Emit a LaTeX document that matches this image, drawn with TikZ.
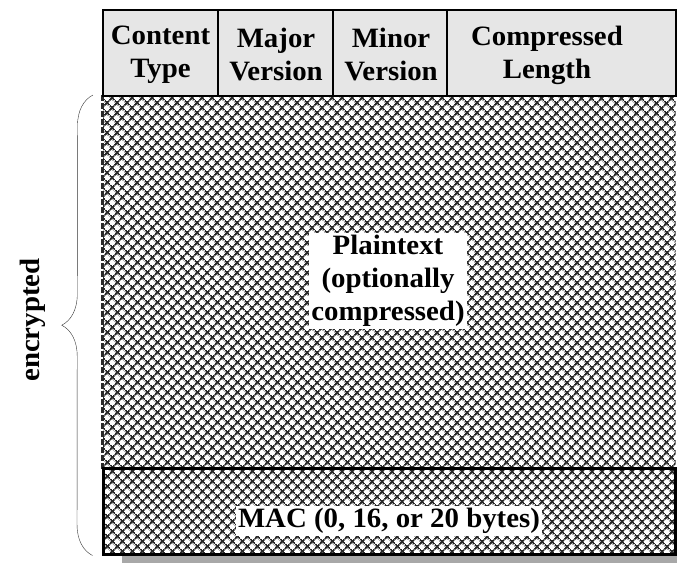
\documentclass[tikz,border=0pt]{standalone}
\usepackage{fontspec}
\setmainfont[FakeStretch=1.03]{Liberation Serif}
\usetikzlibrary{patterns.meta,decorations.pathreplacing}

\definecolor{hdrgray}{HTML}{E6E6E6}
\definecolor{hatchgray}{HTML}{2A2A2A}
\definecolor{shadowgray}{HTML}{A8A8A8}

\newcommand{\hdrfont}{\fontsize{28}{33}\selectfont\bfseries}
\tikzstyle{field}=[draw,line width=2.5pt,fill=hdrgray,inner sep=0pt,minimum height=86pt]
\tikzstyle{fieldtext}=[font=\hdrfont,align=center,inner sep=0pt]
\tikzstyle{hatched}=[line width=3pt,inner sep=0pt,pattern={Hatch[angle=45,distance=7.4pt,line width=2pt]},pattern color=hatchgray]
\tikzstyle{whitetag}=[fill=white,font=\hdrfont,align=center,inner sep=2pt]
\tikzstyle{brace}=[decorate,decoration={brace,amplitude=31pt,aspect=0.5},thin,black!80]

\begin{document}
\begin{tikzpicture}[x=1pt,y=1pt]
    \useasboundingbox (0,0) rectangle (677,563);
    % shadow under the record
    \fill[shadowgray] (122,0) rectangle (677,7);
    % First we draw the hatched body and the MAC
    \node[hatched, minimum width=572.5pt, minimum height=372pt] (body) at (389.25,281) {};
    \draw[line width=3pt, hatchgray, dash pattern=on 6pt off 2pt] (body.north west) -- (body.south west);
    \node[hatched, draw, minimum width=572.5pt, minimum height=86pt] (mac) at (389.25,52) {};
    % Header fields on top
    \foreach \pos/\fw/\name in {{(160.5,510)/115pt/type}, {(275.5,510)/115pt/major}, {(390,510)/114pt/minor}, {(561.5,510)/229pt/len}}
        \node[field, minimum width=\fw] (\name) at \pos {};
    \foreach \pos/\name/\txt in {{(160.5,508)/typetxt/Content\\Type}, {(276,508)/majortxt/Major\\Version}, {(391,508)/minortxt/Minor\\Version}, {(547,508)/lentxt/Compressed\\Length}}
        \node[fieldtext] (\name) at \pos {\txt};

    \node[whitetag] (plain) at (388,282) {Plaintext\\(optionally\\compressed)};
    \node[whitetag] (maclbl) at (389,42) {MAC (0, 16, or 20 bytes)};

    % brace for the encrypted part
    \draw[brace] ([xshift=-9pt]mac.south west) -- ([xshift=-9pt]body.north west);
    \node[font=\hdrfont, rotate=90] (enc) at (33,243) {encrypted};
\end{tikzpicture}
\end{document}
